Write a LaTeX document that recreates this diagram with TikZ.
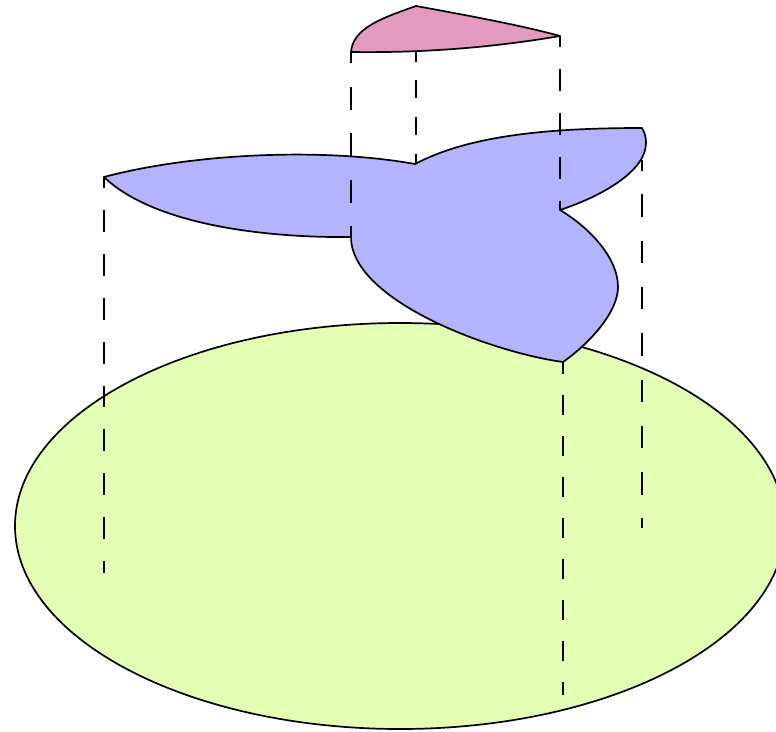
\documentclass[tikz,border=0pt]{standalone}
\usepackage{xcolor}
\usetikzlibrary{calc}
\definecolor{sheetGreen}{RGB}{226,255,179}
\definecolor{sheetBlue}{RGB}{179,179,255}
\definecolor{sheetPink}{RGB}{226,155,190}
\tikzset{
  outline/.style={black, line width=1.7pt},
  guide/.style n args={3}{black, line width=1.7pt, dash pattern=on #1pt off #2pt, dash phase=#3pt},
}
\begin{document}
\begin{tikzpicture}[x=1pt,y=-1pt]
    \useasboundingbox (0,0) rectangle (776,731);

    % base disc
    \begin{scope}
    \clip (0,0) rectangle (776,731);
    \draw[outline, fill=sheetGreen] (400,526) ellipse [x radius=385, y radius=203];
    \end{scope}

    % guide behind the middle sheet
    \draw[guide={22.5}{23.8}{12}] (642,160) -- (642,528);

    % middle sheet
    \draw[outline, fill=sheetBlue, line join=round] (104,177)
        .. controls (190,154) and (320,147) .. (415,164)
        .. controls (470,135) and (550,128) .. (642,128)
        .. controls (645,133) and (646,138) .. (646,143)
        .. controls (646,170) and (605,195) .. (560,210)
        .. controls (590,228) and (618,258) .. (618,287)
        .. controls (618,312) and (590,343) .. (563,362)
        .. controls (490,352) and (351,300) .. (351,237)
        .. controls (270,238) and (155,226) .. (104,177) -- cycle;

    % top sheet
    \draw[outline, fill=sheetPink, line join=round] (351,52)
        .. controls (353,28) and (382,18) .. (416,6)
        .. controls (465,15) and (520,25) .. (560,36)
        .. controls (490,48) and (420,53) .. (351,52) -- cycle;

    % vertical guides
    \draw[guide={23}{23.5}{11.7}] (351,52) -- (351,237);
    \draw[guide={18.3}{18.4}{8.6}] (416,52) -- (416,164);
    \draw[guide={22}{22}{11.3}] (560,36) -- (560,210);
    \draw[guide={21.8}{22}{10.5}] (104,177) -- (104,573);
    \draw[guide={20}{21}{8}] (563,362) -- (563,695);

\end{tikzpicture}
\end{document}
